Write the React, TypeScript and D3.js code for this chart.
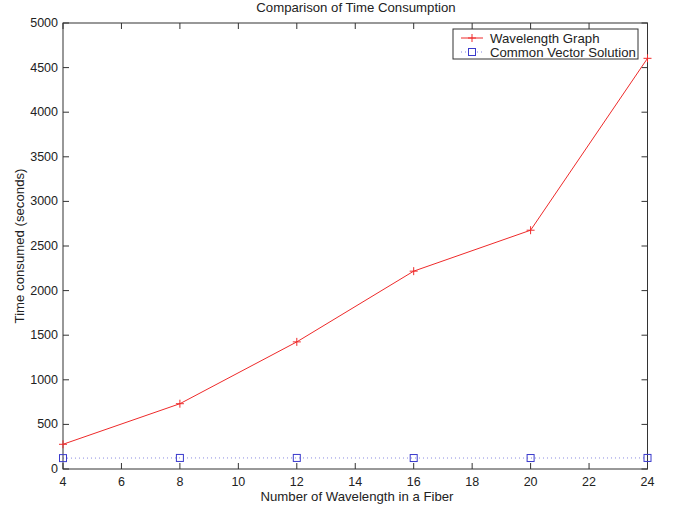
import React, { useEffect, useRef } from "react";
import * as d3 from "d3";

const WIDTH = 678;
const HEIGHT = 507;

// data
const wavelengths = [4, 8, 12, 16, 20, 24];
const wavelengthGraph = [277, 732, 1425, 2218, 2677, 4604];
const commonVector = [122, 124, 124, 123, 123, 124];
const xTicks = [4, 6, 8, 10, 12, 14, 16, 18, 20, 22, 24];
const yTicks = [0, 500, 1000, 1500, 2000, 2500, 3000, 3500, 4000, 4500, 5000];

const RED = "#ee2a2a";
const BLUE = "#3a3acc";
const FONT = "Liberation Sans, Arial, sans-serif";

const margin = { left: 63, right: 30, top: 23, bottom: 38 };

const App = () => {
  const svgRef = useRef<SVGSVGElement>(null);

  useEffect(() => {
    const svg = d3.select(svgRef.current);
    svg.selectAll("*").remove();

    const x = d3.scaleLinear().domain([4, 24]).range([margin.left, WIDTH - margin.right - 0.5]);
    const y = d3.scaleLinear().domain([0, 5000]).range([HEIGHT - margin.bottom, margin.top]);
    const [x0, x1] = x.range();
    const [y0, y1] = y.range();

    svg.append("rect").attr("width", WIDTH).attr("height", HEIGHT).attr("fill", "white");

    // axes: inward ticks on all four sides, like a matlab box
    const g = svg.append("g").attr("font-family", FONT).attr("font-size", 12.5).attr("fill", "#222");
    const tickLen = 6;
    xTicks.forEach((t) => {
      g.append("line").attr("x1", x(t)).attr("x2", x(t)).attr("y1", y0).attr("y2", y0 - tickLen).attr("stroke", "#333");
      g.append("line").attr("x1", x(t)).attr("x2", x(t)).attr("y1", y1).attr("y2", y1 + tickLen).attr("stroke", "#333");
      g.append("text").attr("x", x(t)).attr("y", y0 + 17).attr("text-anchor", "middle").text(t);
    });
    yTicks.forEach((t) => {
      g.append("line").attr("x1", x0).attr("x2", x0 + tickLen).attr("y1", y(t)).attr("y2", y(t)).attr("stroke", "#333");
      g.append("line").attr("x1", x1).attr("x2", x1 - tickLen).attr("y1", y(t)).attr("y2", y(t)).attr("stroke", "#333");
      g.append("text").attr("x", x0 - 5).attr("y", y(t) + 4).attr("text-anchor", "end").text(t);
    });
    svg.append("rect")
      .attr("x", x0).attr("y", y1).attr("width", x1 - x0).attr("height", y0 - y1)
      .attr("fill", "none").attr("stroke", "#333").attr("stroke-width", 1);

    // titles
    const t = svg.append("g").attr("font-family", FONT).attr("font-size", 13.2).attr("fill", "#222");
    t.append("text").attr("x", 356).attr("y", 12).attr("text-anchor", "middle").text("Comparison of Time Consumption");
    t.append("text").attr("x", 357).attr("y", 501).attr("text-anchor", "middle").text("Number of Wavelength in a Fiber");
    t.append("text")
      .attr("transform", `translate(24,${(y0 + y1) / 2}) rotate(-90)`)
      .attr("text-anchor", "middle").text("Time consumed (seconds)");

    // series
    const line = d3.line<number>().x((d, i) => x(wavelengths[i])).y((d) => y(d));
    svg.append("path").datum(commonVector).attr("d", line).attr("fill", "none")
      .attr("stroke", BLUE).attr("stroke-opacity", 0.6).attr("stroke-dasharray", "1,3");
    svg.append("path").datum(wavelengthGraph).attr("d", line).attr("fill", "none").attr("stroke", RED);

    const drawPlus = (cx: number, cy: number, s = 4) => {
      svg.append("path").attr("d", `M${cx - s},${cy}H${cx + s}M${cx},${cy - s}V${cy + s}`).attr("stroke", RED);
    };
    const drawSquare = (cx: number, cy: number, s = 3.5) => {
      svg.append("rect").attr("x", cx - s).attr("y", cy - s).attr("width", 2 * s).attr("height", 2 * s)
        .attr("fill", "none").attr("stroke", BLUE);
    };
    wavelengthGraph.forEach((d, i) => drawPlus(x(wavelengths[i]), y(d)));
    commonVector.forEach((d, i) => drawSquare(x(wavelengths[i]), y(d)));

    // legend
    const lg = svg.append("g").attr("transform", "translate(453,29)");
    lg.append("rect").attr("width", 185).attr("height", 30).attr("fill", "white").attr("stroke", "#333");
    lg.append("line").attr("x1", 8).attr("x2", 30).attr("y1", 9).attr("y2", 9).attr("stroke", RED);
    lg.append("path").attr("d", "M15,9H23M19,5V13").attr("stroke", RED);
    lg.append("line").attr("x1", 8).attr("x2", 30).attr("y1", 23).attr("y2", 23)
      .attr("stroke", BLUE).attr("stroke-opacity", 0.6).attr("stroke-dasharray", "1,3");
    lg.append("rect").attr("x", 15.5).attr("y", 19.5).attr("width", 7).attr("height", 7).attr("fill", "white").attr("stroke", BLUE);
    const lt = lg.append("g").attr("font-family", FONT).attr("font-size", 13.2).attr("fill", "#222");
    lt.append("text").attr("x", 37).attr("y", 13.5).text("Wavelength Graph");
    lt.append("text").attr("x", 37).attr("y", 27.5).text("Common Vector Solution");
  }, []);

  return <svg ref={svgRef} width={WIDTH} height={HEIGHT} style={{ position: "absolute", left: 0, top: 0 }} />;
};

export default App;
